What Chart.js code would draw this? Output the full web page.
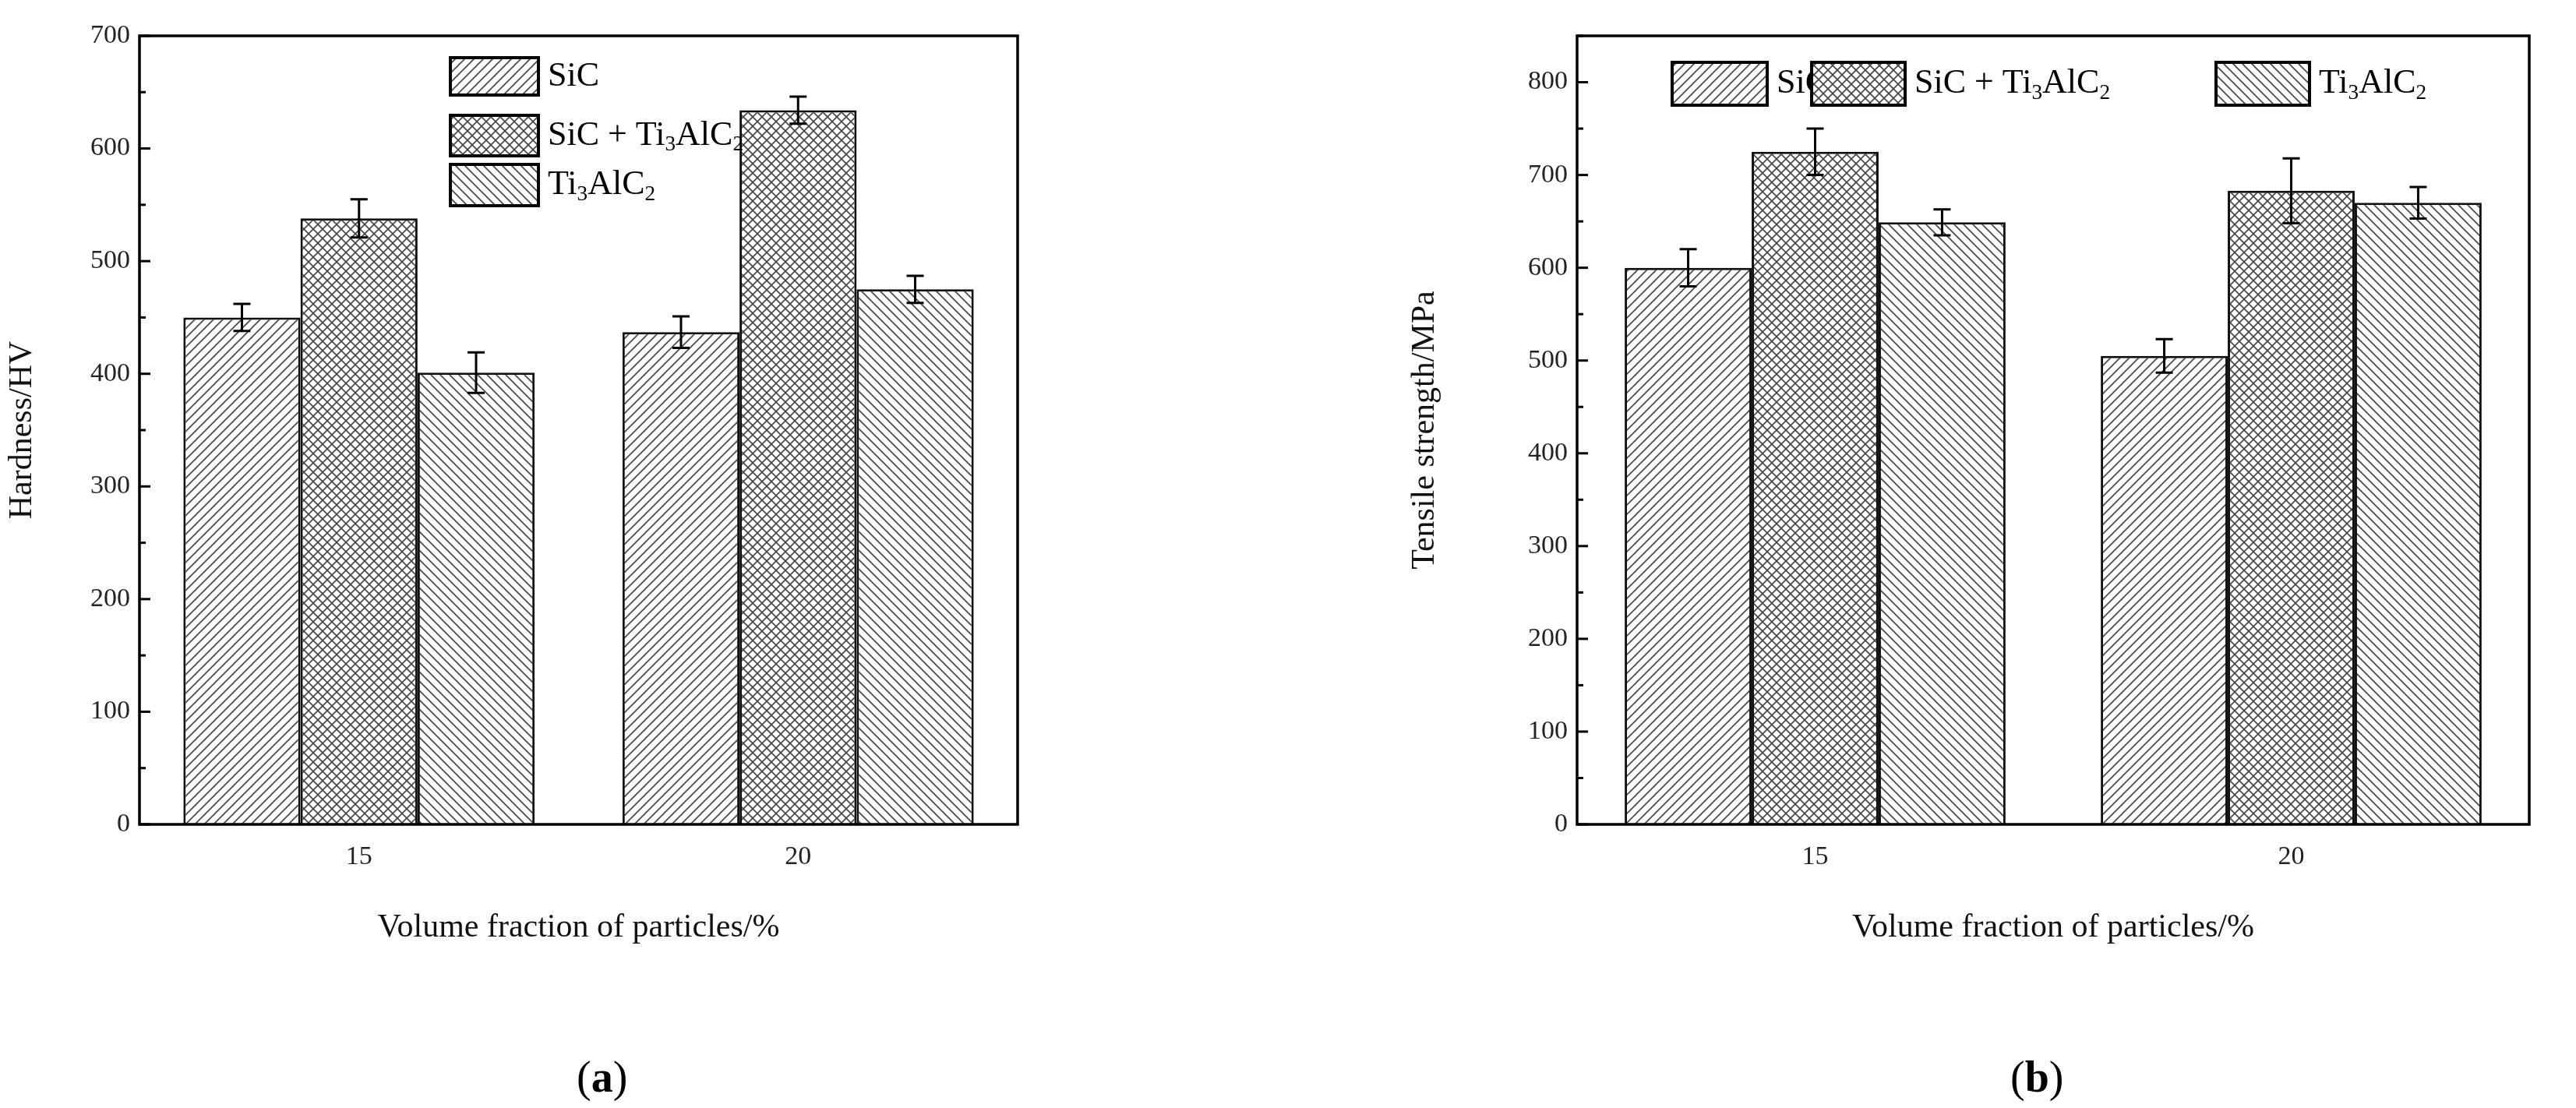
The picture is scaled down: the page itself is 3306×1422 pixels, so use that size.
<!DOCTYPE html>
<html><head><meta charset="utf-8">
<script src="https://cdn.jsdelivr.net/npm/chart.js@4"></script>
<style>
body{margin:0;background:#fff;width:3306px;height:1422px;position:relative;overflow:hidden;font-family:"Liberation Serif",serif}
.c{position:absolute;top:0}
.cap{position:absolute;top:1350px;font-size:56px;font-family:"Liberation Serif",serif}
</style></head><body>
<div class="c" style="left:0;width:1320px;height:1220px"><canvas id="a"></canvas></div>
<div class="c" style="left:1800px;width:1460px;height:1220px"><canvas id="b"></canvas></div>
<div class="cap" style="left:740px">(<b>a</b>)</div>
<div class="cap" style="left:2580px">(<b>b</b>)</div>
<script>
const categories=['15','20'];
const seriesNames=['SiC','SiC + Ti3AlC2','Ti3AlC2'];
const hardness={SiC:[450,437],Mix:[538,634],Ti:[401,475]};
const hardnessErr={SiC:[12,14],Mix:[17,12],Ti:[18,12]};
const tensile={SiC:[600,505],Mix:[725,683],Ti:[649,670]};
const tensileErr={SiC:[20,18],Mix:[25,35],Ti:[14,17]};
const hardTicks=[0,700,100];
const tensTicks=[0,850,100];

function pat(kind){
  const s=12,c=document.createElement('canvas');c.width=s;c.height=s;const g=c.getContext('2d');
  g.fillStyle='#fff';g.fillRect(0,0,s,s);g.strokeStyle='#444';g.lineWidth=1.6;
  const line=(x1,y1,x2,y2)=>{g.beginPath();g.moveTo(x1,y1);g.lineTo(x2,y2);g.stroke();};
  if(kind==='/'||kind==='x'){line(-s,s*2,s*2,-s);line(-s,s,s,-s);line(0,s*2,s*2,0);}
  if(kind==='\\'||kind==='x'){line(-s,-s,s*2,s*2);line(-s,0,s,s*2);line(0,-s,s*2,s);}
  return document.createElement('canvas').getContext('2d').createPattern(c,'repeat');
}
const pats=[pat('/'),pat('x'),pat('\\')];

function sub(ctx,x,y,name,fs){
  // draw name with subscripts for Ti3AlC2
  const parts=name==='SiC'?[['SiC',0]]:name==='Ti3AlC2'?[['Ti',0],['3',1],['AlC',0],['2',1]]:[['SiC + Ti',0],['3',1],['AlC',0],['2',1]];
  for(const [t,s] of parts){
    ctx.font=(s?fs*0.62:fs)+'px "Liberation Serif"';
    ctx.fillText(t,x,y+(s?fs*0.28:0));x+=ctx.measureText(t).width;
  }
}

function make(id,vals,errs,ticks,ytitle,yw,legend){
  const keys=['SiC','Mix','Ti'];
  const ds=keys.map((k,i)=>({label:seriesNames[i],data:vals[k],err:errs[k],backgroundColor:pats[i],borderColor:'#111',borderWidth:3,categoryPercentage:0.8,barPercentage:1}));
  const plug={id:'x'+id,afterDatasetsDraw(ch){
    const c=ch.ctx,y=ch.scales.y,a=ch.chartArea;
    c.save();c.strokeStyle='#000';c.lineWidth=3;
    ch.data.datasets.forEach((d,i)=>{ch.getDatasetMeta(i).data.forEach((b,j)=>{
      const v=d.data[j],e=d.err[j],y1=y.getPixelForValue(v+e),y2=y.getPixelForValue(v-e);
      c.beginPath();c.moveTo(b.x,y1);c.lineTo(b.x,y2);c.moveTo(b.x-11,y1);c.lineTo(b.x+11,y1);c.moveTo(b.x-11,y2);c.lineTo(b.x+11,y2);c.stroke();});});
    c.lineWidth=3.5;c.strokeRect(a.left,a.top,a.right-a.left,a.bottom-a.top);
    // inward ticks
    c.lineWidth=3;
    for(let v=ticks[0];v<=ticks[1];v+=ticks[2]/2){const p=y.getPixelForValue(v);const L=(v%ticks[2]===0)?14:8;c.beginPath();c.moveTo(a.left,p);c.lineTo(a.left+L,p);c.stroke();}
    // legend
    c.fillStyle='#000';c.textBaseline='middle';
    legend.forEach((L,i)=>{c.fillStyle=pats[i];c.fillRect(L[0],L[1],L[2],L[3]);c.lineWidth=4;c.strokeRect(L[0],L[1],L[2],L[3]);c.fillStyle='#000';sub(c,L[0]+L[2]+12,L[1]+L[3]/2,['SiC','SiC + Ti3AlC2','Ti3AlC2'][i],44);});
    c.restore();
  }};
  return new Chart(document.getElementById(id),{type:'bar',data:{labels:categories,datasets:ds},plugins:[plug],
    options:{responsive:true,maintainAspectRatio:false,animation:false,layout:{padding:{top:46,right:14,left:0,bottom:0}},
      plugins:{legend:{display:false},tooltip:{enabled:false}},
      scales:{x:{grid:{display:false,drawTicks:false},border:{display:false},ticks:{color:'#222',font:{family:'Liberation Serif',size:34},padding:22},
          title:{display:true,text:'Volume fraction of particles/%',color:'#111',font:{family:'Liberation Serif',size:42},padding:{top:14}},
          afterFit(s){s.height=162;}},
        y:{min:ticks[0],max:ticks[1],grid:{display:false,drawTicks:false},border:{display:false},
          ticks:{stepSize:ticks[2],color:'#222',font:{family:'Liberation Serif',size:34},padding:12,callback:(v)=>v%ticks[2]===0&&v<=800||v===700?v:''},
          title:{display:true,text:ytitle,color:'#111',font:{family:'Liberation Serif',size:42}},
          afterFit(s){s.width=yw;}}}}});
}
make('a',hardness,hardnessErr,hardTicks,'Hardness/HV',179,[[578,74,113,48],[578,148,113,52],[578,211,113,53]]);
make('b',tensile,tensileErr,tensTicks,'Tensile strength/MPa',224,[[346,80,122,55],[525,80,120,55],[1044,80,120,55]]);
</script></body></html>
